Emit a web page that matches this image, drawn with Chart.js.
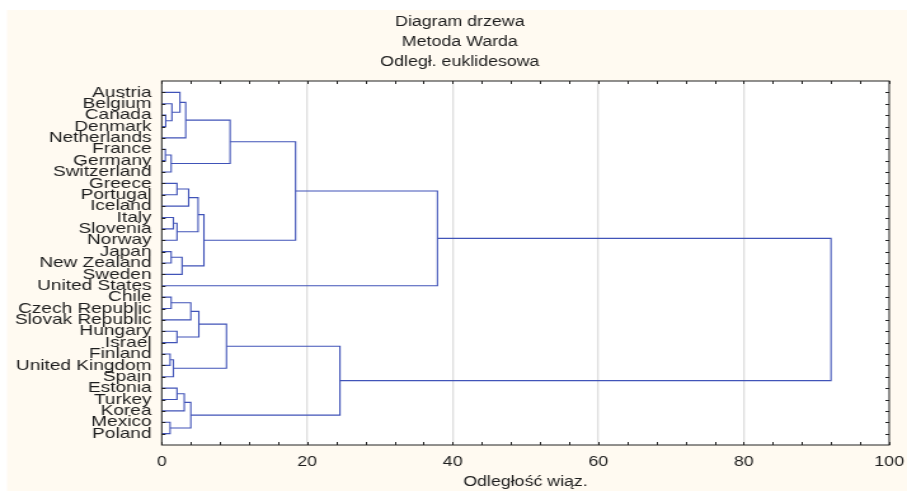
<!DOCTYPE html>
<html>
<head>
<meta charset="utf-8">
<title>Diagram drzewa</title>
<script src="https://cdn.jsdelivr.net/npm/chart.js@4"></script>
<style>
  html, body { margin: 0; padding: 0; background: #fff; overflow: hidden; }
  /* the original picture is stretched sideways, so draw narrow and widen */
  #wrap { width: 714px; height: 491px; transform: scaleX(1.2703); transform-origin: 0 0; }
</style>
</head>
<body>
<div id="wrap"><canvas id="tree" width="714" height="491"></canvas></div>
<script>
const leaves = [
  "Austria", "Belgium", "Canada", "Denmark", "Netherlands", "France", "Germany",
  "Switzerland", "Greece", "Portugal", "Iceland", "Italy", "Slovenia", "Norway",
  "Japan", "New Zealand", "Sweden", "United States", "Chile", "Czech Republic",
  "Slovak Republic", "Hungary", "Israel", "Finland", "United Kingdom", "Spain",
  "Estonia", "Turkey", "Korea", "Mexico", "Poland"
];

// ids below 31 are leaves, id 31 + k is the cluster made by merge k
const mergePairs = [
  [2, 3], [1, 31], [0, 32], [33, 4], [5, 6], [35, 7], [34, 36],
  [8, 9], [38, 10], [11, 12], [40, 13], [39, 41], [14, 15], [43, 16],
  [42, 44], [37, 45], [46, 17],
  [18, 19], [48, 20], [21, 22], [49, 50], [23, 24], [52, 25], [51, 53],
  [26, 27], [55, 28], [29, 30], [56, 57], [54, 58], [47, 59]
];
const mergeHeights = [
  0.55, 1.4, 2.5, 3.3, 0.5, 1.3, 9.4,
  2.1, 3.7, 1.6, 2.1, 5.0, 1.3, 2.8,
  5.8, 18.4, 37.9,
  1.3, 4.0, 2.1, 5.1, 1.15, 1.6, 8.9,
  2.1, 3.1, 1.15, 4.0, 24.5, 92.0
];

const xTicks = [0, 20, 40, 60, 80, 100];
const titleLines = ["Diagram drzewa", "Metoda Warda", "Odległ. euklidesowa"];
const xTitle = "Odległość wiąz.";

const FONT = "'Liberation Sans', Arial, sans-serif";
const LINE = "#4053B8";
const TEXT = "#1d1d1d";

// walk the merges: each one gives a bracket from its two children
const nodeY = leaves.map((_, i) => i);
const nodeX = leaves.map(() => 0);
const datasets = mergePairs.map(([a, b], k) => {
  const h = mergeHeights[k];
  nodeY.push((nodeY[a] + nodeY[b]) / 2);
  nodeX.push(h);
  return {
    data: [
      { x: nodeX[a], y: nodeY[a] },
      { x: h, y: nodeY[a] },
      { x: h, y: nodeY[b] },
      { x: nodeX[b], y: nodeY[b] }
    ],
    showLine: true,
    borderColor: LINE,
    borderWidth: 1.1,
    pointRadius: 0,
    tension: 0
  };
});

const framePlugin = {
  id: "frame",
  beforeDraw(chart) {
    const { ctx, chartArea: a } = chart;
    ctx.save();
    ctx.fillStyle = "#FFFAF1";
    ctx.fillRect(5.5, 10, chart.width, chart.height);
    ctx.fillStyle = "#fff";
    ctx.fillRect(a.left, a.top, a.right - a.left, a.bottom - a.top);
    ctx.restore();
  },
  afterDraw(chart) {
    const { ctx, chartArea: a } = chart;
    const xs = chart.scales.x;
    const ys = chart.scales.y;
    ctx.save();
    ctx.strokeStyle = "#222";
    ctx.lineWidth = 1;
    ctx.strokeRect(a.left, a.top, a.right - a.left, a.bottom - a.top);

    ctx.beginPath();
    for (let v = 0; v <= 100; v += 4) {
      const x = Math.round(xs.getPixelForValue(v)) + 0.5;
      ctx.moveTo(x, a.bottom);
      ctx.lineTo(x, a.bottom - 3);
      ctx.moveTo(x, a.top);
      ctx.lineTo(x, a.top + 3);
    }
    leaves.forEach((_, i) => {
      const y = Math.round(ys.getPixelForValue(i)) + 0.5;
      ctx.moveTo(a.left, y);
      ctx.lineTo(a.left + 3, y);
      ctx.moveTo(a.right, y);
      ctx.lineTo(a.right - 3, y);
    });
    ctx.stroke();

    ctx.fillStyle = TEXT;
    ctx.textAlign = "center";
    ctx.textBaseline = "middle";
    ctx.font = "14px " + FONT;
    titleLines.forEach((t, i) => ctx.fillText(t, 362, 22 + i * 20));
    ctx.fillText(xTitle, (a.left + a.right) / 2, 482);
    ctx.restore();
  }
};

new Chart(document.getElementById("tree"), {
  type: "scatter",
  data: { datasets },
  options: {
    responsive: false,
    animation: false,
    layout: { padding: { top: 81, right: 14, bottom: 0, left: 0 } },
    plugins: { legend: { display: false }, tooltip: { enabled: false } },
    scales: {
      x: {
        type: "linear",
        min: 0,
        max: 100,
        afterFit(s) { s.height = 46; s.paddingLeft = 0; s.paddingRight = 0; },
        afterBuildTicks(s) { s.ticks = xTicks.map(v => ({ value: v })); },
        border: { display: false },
        grid: {
          drawTicks: false,
          lineWidth: 1.3,
          color: c => (c.tick && c.tick.value > 0 && c.tick.value < 100) ? "#DEDEDE" : "transparent"
        },
        ticks: { padding: 9, color: TEXT, font: { family: FONT, size: 14 } }
      },
      y: {
        type: "linear",
        min: -1,
        max: 31,
        reverse: true,
        afterFit(s) { s.width = 127.3; s.paddingTop = 0; s.paddingBottom = 0; },
        afterBuildTicks(s) { s.ticks = leaves.map((_, i) => ({ value: i })); },
        border: { display: false },
        grid: { display: false, drawTicks: false },
        ticks: {
          padding: 8,
          autoSkip: false,
          color: TEXT,
          font: { family: FONT, size: 15 },
          callback: v => leaves[v]
        }
      }
    }
  },
  plugins: [framePlugin]
});
</script>
</body>
</html>
